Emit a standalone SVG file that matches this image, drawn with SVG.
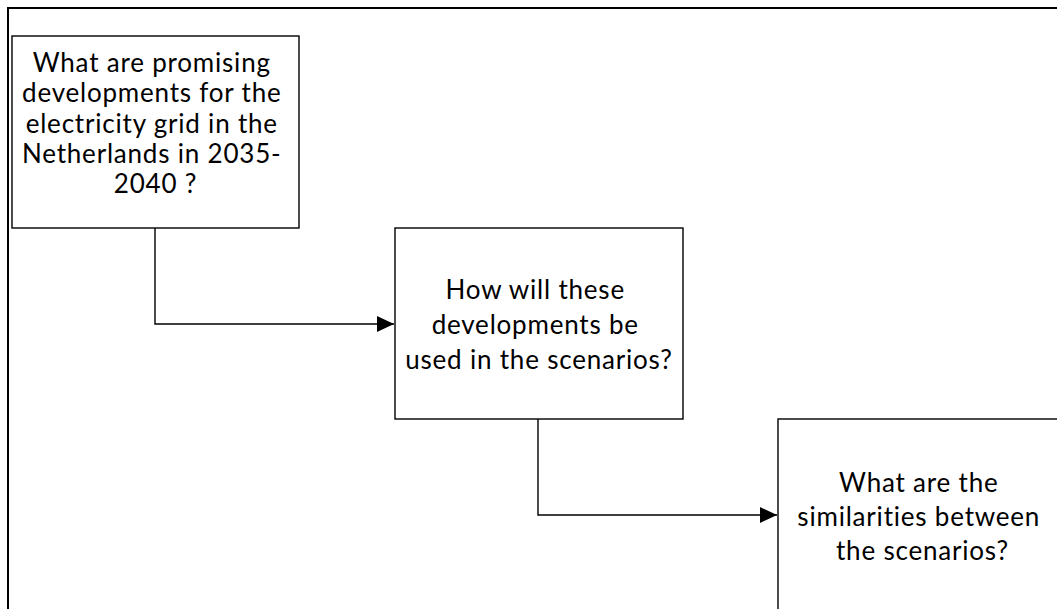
<svg xmlns="http://www.w3.org/2000/svg" width="1057" height="609" viewBox="0 0 1057 609">
  <style>
    .frame { fill: none; stroke: #000; stroke-width: 2; }
    .box { fill: #fff; stroke: #000; stroke-width: 1.4; }
    .conn { fill: none; stroke: #000; stroke-width: 1.4; }
    .label { font-family: Lato, "Open Sans", "Liberation Sans", sans-serif; font-size: 26px; letter-spacing: 0.8px; fill: #000; text-anchor: middle; }
  </style>
  <defs>
    <marker id="arrow" markerUnits="userSpaceOnUse" markerWidth="18" markerHeight="18" refX="17" refY="8" orient="auto">
      <path d="M0,0 L17,8 L0,16 Z" fill="#000"/>
    </marker>
  </defs>
  <rect width="1057" height="609" fill="#fff"/>
  <!-- page frame, running past the right and bottom edges -->
  <rect class="frame" x="8" y="8" width="1080" height="640"/>

  <g id="connectors">
    <path class="conn" d="M155,228 V324 H394" marker-end="url(#arrow)"/>
    <path class="conn" d="M538,419 V515 H777" marker-end="url(#arrow)"/>
  </g>

  <g id="q1">
    <rect class="box" x="12" y="36" width="287" height="192"/>
    <text class="label">
      <tspan x="155.5" y="72">What are promising</tspan>
      <tspan x="155.5" y="102">developments for the</tspan>
      <tspan x="155.5" y="132.5">electricity grid in the</tspan>
      <tspan x="155.5" y="162.5">Netherlands in 2035-</tspan>
      <tspan x="155.5" y="193">2040 ?</tspan>
    </text>
  </g>

  <g id="q2">
    <rect class="box" x="395" y="228" width="288" height="191"/>
    <text class="label">
      <tspan x="539" y="299">How will these</tspan>
      <tspan x="539" y="334">developments be</tspan>
      <tspan x="539" y="368.5">used in the scenarios?</tspan>
    </text>
  </g>

  <g id="q3">
    <rect class="box" x="778" y="419" width="288" height="191"/>
    <text class="label">
      <tspan x="922.5" y="491.5">What are the</tspan>
      <tspan x="922.5" y="526">similarities between</tspan>
      <tspan x="922.5" y="560">the scenarios?</tspan>
    </text>
  </g>
</svg>
